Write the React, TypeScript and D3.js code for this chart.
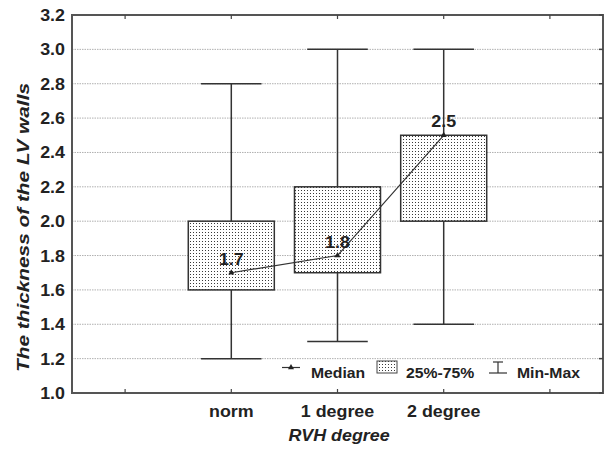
import React from "react";
import * as d3 from "d3";

const categories = ["norm", "1 degree", "2 degree"];
const mins = [1.2, 1.3, 1.4];
const q1s = [1.6, 1.7, 2.0];
const medians = [1.7, 1.8, 2.5];
const q3s = [2.0, 2.2, 2.5];
const maxs = [2.8, 3.0, 3.0];
const yTicks = [1.0, 1.2, 1.4, 1.6, 1.8, 2.0, 2.2, 2.4, 2.6, 2.8, 3.0, 3.2];
const slotCount = 5;
const firstCategorySlot = 1;

const W = 605, H = 449;
const L = 72, R = 603, T = 15, B = 393;
const SX = 1.05;
const FONT = "'Liberation Sans', Arial, sans-serif";

function SText(props: { x: number; y: number; anchor?: string; size?: number; italic?: boolean; children: React.ReactNode; fill?: string }) {
  const { x, y, anchor = "middle", size = 15, italic = false, children, fill = "#222" } = props;
  return (
    <g transform={`translate(${x},${y}) scale(${SX},1)`}>
      <text textAnchor={anchor as any} fontFamily={FONT} fontWeight="bold" fontStyle={italic ? "italic" : "normal"} fontSize={size} fill={fill}>
        {children}
      </text>
    </g>
  );
}

export default function App() {
  const x = d3.scaleLinear().domain([0, slotCount]).range([L, R]);
  const y = d3.scaleLinear().domain([1.0, 3.2]).range([B, T]);
  const slotW = x(1) - x(0);
  const cx = (i: number) => x(firstCategorySlot + i + 0.5);
  const boxW = slotW * 0.81;
  const capW = slotW * 0.57;
  const slots = d3.range(slotCount).map((i) => x(i + 0.5));
  const medLine = d3.line<number>().x((_, i) => cx(i)).y((d) => y(d))(medians) || "";
  const tri = d3.symbol().type(d3.symbolTriangle).size(16)() || "";

  return (
    <svg width={W} height={H} style={{ position: "absolute", left: 0, top: 0, background: "#fff" }}>
      <defs>
        <pattern id="dots" width={3} height={3} patternUnits="userSpaceOnUse">
          <rect width={3} height={3} fill="#fff" />
          <rect x={1} y={1} width={1} height={1} fill="#3a3a3a" />
        </pattern>
      </defs>
      <rect width={W} height={H} fill="#fff" />
      {/* grid */}
      {yTicks.slice(1, -1).map((t) => (
        <line key={t} x1={L} x2={R} y1={y(t)} y2={y(t)} stroke="#b0b0b0" strokeWidth={1} strokeDasharray="1.5,1" />
      ))}
      {/* whiskers */}
      {categories.map((c, i) => (
        <g key={c} stroke="#333" strokeWidth={1.5}>
          <line x1={cx(i)} x2={cx(i)} y1={y(mins[i])} y2={y(maxs[i])} />
          <line x1={cx(i) - capW / 2} x2={cx(i) + capW / 2} y1={y(mins[i])} y2={y(mins[i])} />
          <line x1={cx(i) - capW / 2} x2={cx(i) + capW / 2} y1={y(maxs[i])} y2={y(maxs[i])} />
        </g>
      ))}
      {/* boxes */}
      {categories.map((c, i) => (
        <rect key={c} x={cx(i) - boxW / 2} y={y(q3s[i])} width={boxW} height={y(q1s[i]) - y(q3s[i])} fill="url(#dots)" stroke="#333" strokeWidth={1.5} />
      ))}
      {/* median line */}
      <path d={medLine} fill="none" stroke="#333" strokeWidth={1.2} />
      {medians.map((m, i) => (
        <path key={i} d={tri} transform={`translate(${cx(i)},${y(m)})`} fill="#222" />
      ))}
      {medians.map((m, i) => (
        <SText key={i} x={cx(i)} y={y(m) - 8} size={17}>{m.toFixed(1)}</SText>
      ))}
      {/* frame */}
      <rect x={L} y={T} width={R - L} height={B - T} fill="none" stroke="#555" strokeWidth={2} />
      {/* ticks */}
      {slots.map((sx, i) => (
        <g key={i} stroke="#444" strokeWidth={1.2}>
          <line x1={sx} x2={sx} y1={T} y2={T + 4} />
          <line x1={sx} x2={sx} y1={B} y2={B - 4} />
        </g>
      ))}
      {yTicks.map((t) => (
        <line key={t} x1={R} x2={R - 4} y1={y(t)} y2={y(t)} stroke="#444" strokeWidth={1.5} />
      ))}
      {/* y tick labels */}
      {yTicks.map((t) => (
        <SText key={t} x={65} y={y(t) + 6} anchor="end" size={17}>{t.toFixed(1)}</SText>
      ))}
      {/* x labels */}
      {categories.map((c, i) => (
        <SText key={c} x={cx(i)} y={417} size={17}>{c}</SText>
      ))}
      <SText x={339} y={441} size={17} italic>RVH degree</SText>
      <text transform={`translate(29,227.5) rotate(-90)`} textAnchor="middle" fontFamily={FONT} fontWeight="bold" fontStyle="italic" fontSize={17} fill="#222" textLength={289} lengthAdjust="spacingAndGlyphs">
        The thickness of the LV walls
      </text>
      {/* legend */}
      <g>
        <line x1={282} x2={300} y1={367.5} y2={367.5} stroke="#333" strokeWidth={1.2} />
        <path d={tri} transform="translate(291,367.5)" fill="#222" />
        <SText x={311} y={378} anchor="start" size={15}>Median</SText>
        <rect x={377} y={361} width={20} height={12} fill="url(#dots)" stroke="#444" strokeWidth={1} />
        <SText x={406} y={378} anchor="start" size={15}>25%-75%</SText>
        <g stroke="#333" strokeWidth={1.2}>
          <line x1={493} x2={503} y1={362} y2={362} />
          <line x1={498} x2={498} y1={362} y2={373} />
          <line x1={489} x2={507} y1={373} y2={373} />
        </g>
        <SText x={517} y={378} anchor="start" size={15}>Min-Max</SText>
      </g>
    </svg>
  );
}
